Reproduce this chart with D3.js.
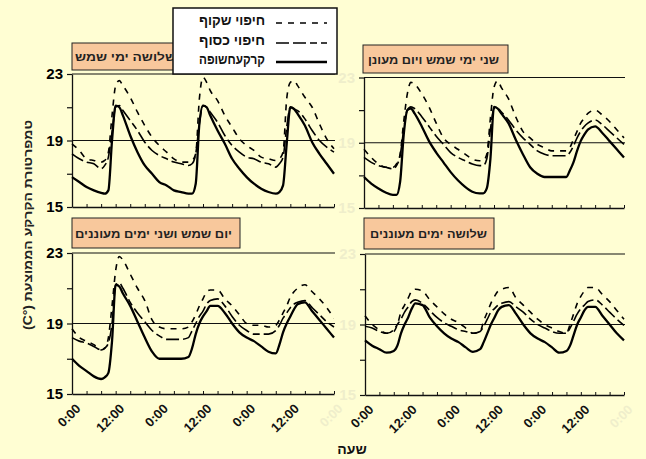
<!DOCTYPE html>
<html>
<head>
<meta charset="utf-8">
<script src="https://cdn.jsdelivr.net/npm/d3@7"></script>
<style>
  body { margin: 0; background: #fffed3; }
  svg { display: block; }
</style>
</head>
<body>
<svg id="chart" width="646" height="459"></svg>
<script>
// Sampling hours over the three days (denser around the morning rise)
const hours = [
  0, 2, 4, 6, 8, 9, 10, 11, 12, 13, 14, 16, 18, 20, 22,
  24, 26, 28, 30, 32, 33, 34, 35, 36, 37, 38, 40, 42, 44, 46,
  48, 50, 52, 54, 56, 57, 58, 59, 60, 61, 62, 64, 66, 68, 70,
  72
];

const seriesNames = ["חיפוי שקוף", "חיפוי כסוף", "קרקעחשופה"];

const panelTitles = [
  "שלושה ימי שמש",
  "שני ימי שמש ויום מעונן",
  "יום שמש ושני ימים מעוננים",
  "שלושה ימים מעוננים"
];

// Three sunny days
const sunny3Clear = [
  18.8, 18.4, 17.9, 17.8, 17.7, 17.8, 18.3, 20.5, 22.3, 22.6, 22.3, 21.6, 20.7, 19.9, 19.2,
  18.7, 18.3, 17.9, 17.7, 17.7, 17.8, 18.2, 21.5, 22.8, 22.5, 22.0, 21.4, 20.5, 19.8, 19.1,
  18.7, 18.4, 18.0, 17.9, 17.8, 17.9, 18.3, 21.5, 22.5, 22.6, 22.3, 21.6, 21.0, 20.0, 19.1,
  18.5
];
const sunny3Silver = [
  18.2, 17.9, 17.7, 17.6, 17.3, 17.5, 18.0, 19.5, 21.0, 21.1, 20.8, 20.2, 19.6, 18.9, 18.4,
  18.1, 17.9, 17.7, 17.6, 17.5, 17.6, 18.2, 20.0, 21.1, 21.0, 20.7, 20.1, 19.3, 18.7, 18.3,
  18.0, 17.9, 17.7, 17.6, 17.4, 17.6, 18.0, 19.8, 21.0, 20.9, 20.8, 20.3, 19.6, 19.0, 18.6,
  18.3
];
const sunny3Bare = [
  16.8, 16.5, 16.2, 16.0, 15.85, 15.8, 16.0, 19.0, 21.1, 21.0, 20.5, 19.3, 18.3, 17.5, 17.0,
  16.5, 16.3, 16.0, 15.9, 15.8, 15.8, 16.4, 20.0, 21.1, 21.0, 20.5, 19.6, 18.8, 17.9, 17.3,
  16.8, 16.4, 16.1, 15.9, 15.8, 15.9, 16.3, 18.8, 21.0, 20.9, 20.6, 19.9, 18.9, 18.2, 17.6,
  17.0
];

// Two sunny days and a cloudy day
const sunny2Clear = [
  18.6, 18.1, 17.7, 17.5, 17.5, 17.7, 18.3, 20.3, 22.0, 22.7, 22.6, 22.0, 21.2, 20.2, 19.3,
  18.9, 18.6, 18.3, 18.0, 17.9, 17.9, 18.3, 20.5, 22.4, 22.8, 22.4, 21.7, 20.6, 19.7, 19.3,
  18.9, 18.7, 18.5, 18.5, 18.5, 18.7, 19.2, 19.7, 20.2, 20.5, 20.8, 21.0, 20.7, 20.3, 19.8,
  19.3
];
const sunny2Silver = [
  18.1, 17.8, 17.6, 17.5, 17.4, 17.6, 18.2, 19.8, 21.0, 21.2, 21.1, 20.6, 20.0, 19.4, 18.9,
  18.4, 18.1, 17.9, 17.7, 17.6, 17.6, 18.0, 19.8, 21.1, 21.1, 20.9, 20.4, 19.8, 19.3, 18.9,
  18.5, 18.3, 18.2, 18.2, 18.2, 18.4, 18.8, 19.3, 19.7, 20.0, 20.2, 20.4, 20.1, 19.7, 19.3,
  18.9
];
const sunny2Bare = [
  16.9, 16.5, 16.2, 15.95, 15.8, 15.8, 16.6, 19.5, 21.0, 21.1, 20.8, 20.0, 19.1, 18.4, 17.8,
  17.2, 16.7, 16.3, 16.0, 15.9, 15.9, 16.2, 18.0, 21.2, 21.1, 20.8, 20.2, 19.2, 18.3, 17.5,
  17.1, 16.9, 16.9, 16.9, 16.9, 17.3, 17.8, 18.5, 19.1, 19.5, 19.8, 20.0, 19.6, 19.1, 18.6,
  18.1
];

// One sunny day and two cloudy days
const sunny1Clear = [
  18.7, 18.2, 18.0, 17.8, 17.5, 17.6, 18.2, 20.0, 22.0, 22.8, 22.6, 21.8, 21.0, 20.3, 19.2,
  18.8, 18.7, 18.7, 18.7, 18.8, 19.1, 19.5, 20.0, 20.4, 20.8, 20.9, 20.9, 20.4, 20.0, 19.5,
  19.0, 18.9, 18.9, 18.8, 18.9, 19.2, 19.6, 20.0, 20.5, 20.8, 21.0, 21.2, 20.8, 20.4, 19.9,
  19.3
];
const sunny1Silver = [
  18.2, 18.0, 17.9, 17.7, 17.5, 17.6, 17.9, 19.0, 21.2, 21.3, 21.0, 20.2, 19.6, 19.1, 18.6,
  18.3, 18.1, 18.1, 18.1, 18.2, 18.6, 19.0, 19.4, 19.7, 20.1, 20.3, 20.4, 20.0, 19.4, 18.9,
  18.6, 18.4, 18.4, 18.4, 18.6, 18.9, 19.3, 19.6, 19.9, 20.1, 20.2, 20.3, 19.9, 19.5, 19.1,
  18.8
];
const sunny1Bare = [
  17.0, 16.6, 16.3, 16.0, 15.85, 15.95, 16.2, 18.0, 21.2, 21.1, 20.7, 20.0, 19.1, 18.2, 17.4,
  17.0, 17.0, 17.0, 17.0, 17.1, 17.6, 18.4, 19.0, 19.4, 19.7, 20.0, 20.0, 19.6, 19.0, 18.5,
  18.2, 18.0, 17.7, 17.4, 17.3, 17.8, 18.5, 19.0, 19.4, 19.8, 20.1, 20.2, 19.7, 19.2, 18.7,
  18.2
];

// Three cloudy days
const cloudy3Clear = [
  19.5, 19.0, 18.7, 18.5, 18.6, 19.0, 19.7, 20.1, 20.5, 20.9, 21.0, 20.9, 20.4, 20.0, 19.6,
  19.3, 19.1, 18.8, 18.5, 18.6, 19.2, 19.7, 20.2, 20.6, 20.9, 21.0, 21.1, 20.5, 20.1, 19.7,
  19.3, 19.0, 18.8, 18.6, 18.5, 19.0, 19.6, 20.2, 20.6, 20.9, 21.1, 21.1, 20.7, 20.3, 19.8,
  19.3
];
const cloudy3Silver = [
  18.9, 18.8, 18.6, 18.5, 18.7, 19.0, 19.3, 19.7, 20.0, 20.3, 20.4, 20.2, 19.8, 19.4, 19.1,
  18.9, 18.7, 18.6, 18.5, 18.6, 18.9, 19.3, 19.7, 19.9, 20.1, 20.2, 20.3, 20.0, 19.7, 19.3,
  19.0, 18.8, 18.6, 18.5, 18.5, 18.8, 19.2, 19.6, 19.9, 20.1, 20.3, 20.4, 20.1, 19.7, 19.3,
  18.95
];
const cloudy3Bare = [
  18.1, 17.8, 17.6, 17.4, 17.5, 17.8, 18.5, 19.0, 19.4, 19.9, 20.2, 20.1, 19.4, 18.9, 18.5,
  18.2, 18.0, 17.7, 17.45, 17.6, 18.0, 18.5, 19.0, 19.4, 19.8, 20.0, 20.1, 19.6, 19.0, 18.5,
  18.2, 18.0, 17.7, 17.4, 17.5, 17.8, 18.4, 19.0, 19.4, 19.8, 20.0, 20.0, 19.5, 19.0, 18.5,
  18.1
];

const yTickValues = [15, 17, 19, 21, 23];
const yLabelValues = [15, 19, 23];
const yGridValues = [19, 23];
const xTickHours = [0, 4, 8, 12, 16, 20, 24, 28, 32, 36, 40, 44, 48, 52, 56, 60, 64, 68, 72];
const xLabelHours = [0, 12, 24, 36, 48, 60, 72];
const xLabelText = ["0:00", "12:00", "0:00", "12:00", "0:00", "12:00", "0:00"];

const yAxisTitle = "טמפרטורת הקרקע הממוצעת (°C)";
const xAxisTitle = "שעה";

// Per-series stroke styles: clear mulch, silver mulch, bare soil
const seriesStyles = [
  { width: 1.6, dash: "6,6" },
  { width: 1.6, dash: "13,4,13,4,7,4" },
  { width: 2.3, dash: null }
];

const panelData = [
  [sunny3Clear, sunny3Silver, sunny3Bare],
  [sunny2Clear, sunny2Silver, sunny2Bare],
  [sunny1Clear, sunny1Silver, sunny1Bare],
  [cloudy3Clear, cloudy3Silver, cloudy3Bare]
];

const panels = [
  { x0: 72, x1: 334, yTop: 74, yBot: 207, box: [72, 43, 130, 27], tRight: 176, tWidth: 101, tY: 57, labels: "#000", xLabels: false },
  { x0: 364, x1: 624, yTop: 77.5, yBot: 208, box: [363, 45, 145, 28], tRight: 499, tWidth: 131, tY: 60, labels: "#efeecb", xLabels: false },
  { x0: 72, x1: 334, yTop: 253, yBot: 394, box: [72, 218, 168, 30], tRight: 232, tWidth: 157, tY: 233.5, labels: "#000", xLabels: true },
  { x0: 365, x1: 624, yTop: 254, yBot: 395, box: [364, 218, 130, 31], tRight: 487, tWidth: 117, tY: 234, labels: "#efeecb", xLabels: true }
];

const FONT = "'Liberation Sans', Arial, sans-serif";
const svg = d3.select("#chart").style("font-family", FONT);

svg.append("rect").attr("width", 646).attr("height", 459).attr("fill", "#fffed3");

panels.forEach((p, i) => {
  const g = svg.append("g");
  const x = d3.scaleLinear().domain([0, 72]).range([p.x0, p.x1]);
  const y = d3.scaleLinear().domain([15, 23]).range([p.yBot, p.yTop]);

  // title box
  g.append("rect")
    .attr("x", p.box[0]).attr("y", p.box[1])
    .attr("width", p.box[2]).attr("height", p.box[3])
    .attr("fill", "#f8c89c").attr("stroke", "#222").attr("stroke-width", 1);
  g.append("text")
    .attr("x", p.tRight).attr("y", p.tY)
    .attr("text-anchor", "end")
    .attr("dominant-baseline", "central")
    .attr("textLength", p.tWidth).attr("lengthAdjust", "spacingAndGlyphs")
    .attr("font-size", 11).attr("font-weight", "bold")
    .attr("fill", "#222")
    .text(panelTitles[i]);

  // horizontal reference lines
  g.selectAll("line.grid").data(yGridValues).join("line")
    .attr("class", "grid")
    .attr("x1", p.x0).attr("x2", p.x1 + 1)
    .attr("y1", d => y(d)).attr("y2", d => y(d))
    .attr("stroke", "#111").attr("stroke-width", 1.2);

  // y axis
  const yAxis = d3.axisLeft(y).tickValues(yTickValues).tickSizeInner(5).tickSizeOuter(0).tickPadding(4)
    .tickFormat(d => yLabelValues.includes(d) ? d : "");
  const ya = g.append("g").attr("transform", `translate(${p.x0},0)`).call(yAxis);
  ya.select(".domain").attr("stroke", "#111").attr("stroke-width", 1.3);
  ya.selectAll(".tick line").attr("stroke", "#111").attr("stroke-width", 1.2);
  ya.selectAll("text").attr("font-size", 15).attr("font-weight", "bold")
    .attr("font-family", FONT).attr("fill", p.labels);

  // x axis
  const xAxis = d3.axisBottom(x).tickValues(xTickHours).tickSizeInner(-3).tickSizeOuter(0).tickFormat("");
  const xa = g.append("g").attr("transform", `translate(0,${p.yBot})`).call(xAxis);
  xa.select(".domain").attr("stroke", "#111").attr("stroke-width", 1.3);
  xa.selectAll(".tick line").attr("stroke", "#111").attr("stroke-width", 1);

  if (p.xLabels) {
    g.selectAll("text.xl").data(xLabelHours).join("text")
      .attr("class", "xl")
      .attr("transform", d => `translate(${x(d) + 3},${p.yBot + 9}) rotate(-45)`)
      .attr("text-anchor", "end")
      .attr("dy", "0.7em")
      .attr("font-size", 13).attr("font-weight", "bold")
      .attr("fill", (d, k) => k === xLabelHours.length - 1 ? "#efeecb" : "#111")
      .text((d, k) => xLabelText[k]);
  }

  // series lines
  const line = d3.line()
    .x((d, k) => x(hours[k]))
    .y(d => y(d))
    .curve(d3.curveMonotoneX);
  [2, 1, 0].forEach(s => {
    const st = seriesStyles[s];
    g.append("path")
      .datum(panelData[i][s])
      .attr("d", line)
      .attr("fill", "none")
      .attr("stroke", "#000")
      .attr("stroke-width", st.width)
      .attr("stroke-dasharray", st.dash);
  });
});

// legend
const lg = svg.append("g");
lg.append("rect").attr("x", 173).attr("y", 8).attr("width", 164).attr("height", 66)
  .attr("fill", "#fff").attr("stroke", "#111").attr("stroke-width", 1.5);
const rowsY = [20, 40, 59];
seriesNames.forEach((name, s) => {
  lg.append("text")
    .attr("x", 265).attr("y", rowsY[s])
    .attr("text-anchor", "end").attr("dominant-baseline", "central")
    .attr("textLength", 66).attr("lengthAdjust", "spacingAndGlyphs")
    .attr("font-size", 14).attr("font-weight", "bold").attr("fill", "#111")
    .text(name);
  lg.append("line")
    .attr("x1", 276).attr("x2", 327)
    .attr("y1", rowsY[s] + 3).attr("y2", rowsY[s] + 3)
    .attr("stroke", "#000")
    .attr("stroke-width", seriesStyles[s].width)
    .attr("stroke-dasharray", seriesStyles[s].dash);
});

// axis titles
svg.append("text")
  .attr("transform", "translate(28,225) rotate(-90)")
  .attr("text-anchor", "middle").attr("dominant-baseline", "central")
  .attr("direction", "rtl")
  .attr("textLength", 210).attr("lengthAdjust", "spacingAndGlyphs")
  .attr("font-size", 12).attr("font-weight", "bold").attr("fill", "#222")
  .text(yAxisTitle);

svg.append("text")
  .attr("x", 352).attr("y", 449)
  .attr("text-anchor", "middle").attr("dominant-baseline", "central")
  .attr("font-size", 14).attr("font-weight", "bold").attr("fill", "#111")
  .text(xAxisTitle);
</script>
</body>
</html>
